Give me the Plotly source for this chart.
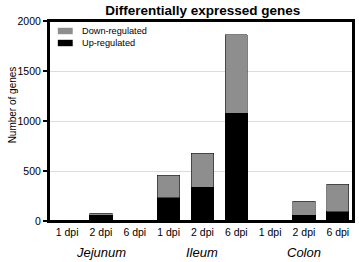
import plotly.graph_objects as go

tissues = ["Jejunum", "Ileum", "Colon"]
dpis = ["1 dpi", "2 dpi", "6 dpi"]
up_regulated = [0, 57, 0, 234, 340, 1077, 0, 57, 94]
down_regulated = [0, 20, 0, 223, 340, 787, 0, 143, 273]
y_ticks = [0, 500, 1000, 1500, 2000]

n = len(tissues) * len(dpis)
xs = list(range(n))
tick_text = [d for t in tissues for d in dpis]

font = "Liberation Sans, Arial, sans-serif"
up_color = "#000000"
down_color = "#8e8e8e"

fig = go.Figure()
fig.add_bar(x=xs, y=up_regulated, name="Up-regulated", width=0.66, showlegend=False,
            marker=dict(color=up_color, line=dict(color="#000000", width=1)))
fig.add_bar(x=xs, y=down_regulated, name="Down-regulated", width=0.66, showlegend=False,
            marker=dict(color=down_color, line=dict(color="#000000", width=0.5)))

for i, t in enumerate(tissues):
    fig.add_annotation(x=i * len(dpis) + 1, y=-0.11, xref="x", yref="paper",
                       text=f"<i>{t}</i>", showarrow=False,
                       font=dict(size=13, color="#000", family=font),
                       yanchor="top")

# legend (manual, to match the flat swatches)
legend_items = [("Down-regulated", down_color, 0.95), ("Up-regulated", up_color, 0.89)]
for label, col, yc in legend_items:
    fig.add_shape(type="rect", xref="paper", yref="paper",
                  x0=0.029, x1=0.078, y0=yc - 0.016, y1=yc + 0.016,
                  fillcolor=col, line=dict(width=0))
    fig.add_annotation(x=0.101, y=yc, xref="paper", yref="paper", text=label,
                       showarrow=False, xanchor="left", yanchor="middle",
                       font=dict(size=9.2, color="#000", family=font))

# plot frame
fig.add_shape(type="rect", xref="paper", yref="paper", x0=0, x1=1, y0=0, y1=1,
              line=dict(color="#000", width=2), fillcolor="rgba(0,0,0,0)", layer="above")

# y-axis title
fig.add_annotation(x=-0.1205, y=0.58, xref="paper", yref="paper", text="Number of genes",
                   textangle=-90, showarrow=False, xanchor="center", yanchor="middle",
                   font=dict(size=10, color="#000", family=font))

fig.update_layout(
    width=359, height=262,
    margin=dict(l=49, r=4, t=21, b=41),
    barmode="stack",
    paper_bgcolor="white", plot_bgcolor="white",
    font=dict(family=font, color="#000", size=10),
    title=dict(text="<b>Differentially expressed genes</b>", x=0.565, xanchor="center",
               y=0.962, yanchor="middle", font=dict(size=13.5, family=font, color="#000")),
    showlegend=False,
    xaxis=dict(range=[-0.535, 8.45], tickmode="array", tickvals=xs, ticktext=tick_text,
               showline=True, linecolor="#000", linewidth=2, mirror=True,
               ticks="", showgrid=False, zeroline=False,
               tickfont=dict(size=10.5)),
    yaxis=dict(range=[0, 2000], tickmode="array", tickvals=y_ticks,
               showline=True, linecolor="#000", linewidth=2, mirror=True,
               ticks="outside", ticklen=4, tickwidth=1.5, tickcolor="#000",
               showgrid=True, gridcolor="#dcdcdc", gridwidth=1, zeroline=False,
               tickfont=dict(size=10.5)),
)

fig.write_html("out.html", config={"displayModeBar": False},
               post_script="document.body.style.margin='0';")
